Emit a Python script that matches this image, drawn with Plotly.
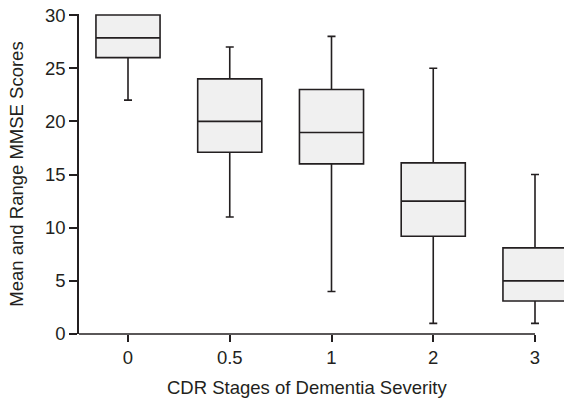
import plotly.graph_objects as go

categories = ["0", "0.5", "1", "2", "3"]
lower_whisker = [22, 11, 4, 1, 1]
q1_vals = [26, 17.1, 16, 9.2, 3.1]
median_vals = [27.85, 20, 18.95, 12.5, 5]
q3_vals = [30, 24, 23, 16.1, 8.1]
upper_whisker = [30, 27, 28, 25, 15]
y_ticks = [0, 5, 10, 15, 20, 25, 30]

positions = list(range(len(categories)))
x_left = -0.4816
ink = "#231f20"
font = dict(family="Liberation Sans, Arial, sans-serif", size=18.5, color=ink)

fig = go.Figure()
for i, pos in enumerate(positions):
    fig.add_trace(go.Box(
        x=[pos],
        q1=[q1_vals[i]], median=[median_vals[i]], q3=[q3_vals[i]],
        lowerfence=[lower_whisker[i]], upperfence=[upper_whisker[i]],
        width=0.63, whiskerwidth=0.125,
        fillcolor="#f0f0f0",
        line=dict(color=ink, width=1.6),
        boxpoints=False, showlegend=False, hoverinfo="skip",
    ))

fig.add_shape(type="line", xref="x", yref="paper",
              x0=x_left, x1=positions[-1], y0=0, y1=0,
              line=dict(color=ink, width=1.6), layer="above")

fig.add_annotation(text="CDR Stages of Dementia Severity",
                   xref="x", yref="paper", x=(x_left + positions[-1]) / 2, y=0,
                   yshift=-53, xanchor="center", yanchor="middle",
                   showarrow=False, font=font)

fig.update_layout(
    width=564, height=398,
    margin=dict(l=79, r=0, t=14, b=64),
    paper_bgcolor="white", plot_bgcolor="white",
    font=font,
    xaxis=dict(
        range=[x_left, 4.285], tickmode="array", tickvals=positions,
        ticktext=categories, ticks="outside", ticklen=7, tickwidth=1.6,
        tickcolor=ink, showgrid=False, zeroline=False, showline=False,
    ),
    yaxis=dict(
        range=[0, 30.1], tickmode="array", tickvals=y_ticks,
        ticks="outside", ticklen=8, tickwidth=1.6, tickcolor=ink,
        showline=True, linecolor=ink, linewidth=1.6,
        showgrid=False, zeroline=False,
        title=dict(text="Mean and Range MMSE Scores", standoff=16, font=font),
    ),
)

fig.write_html("out.html", config={"displayModeBar": False},
               post_script="document.body.style.margin='0';document.body.style.padding='0';")
